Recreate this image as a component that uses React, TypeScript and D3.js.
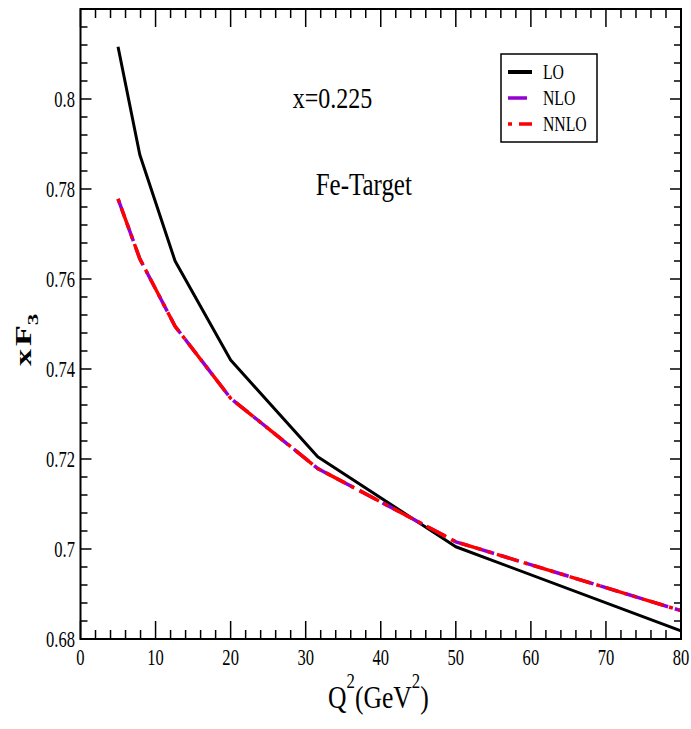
import React from "react";
import * as d3 from "d3";

const Q2 = [5, 7.9, 12.6, 20, 31.6, 50, 80];
const LO = [0.8116, 0.7876, 0.764, 0.742, 0.7205, 0.7005, 0.6818];
const NLO = [0.7778, 0.7645, 0.7495, 0.7335, 0.7179, 0.7016, 0.6863];
const NNLO = [0.7778, 0.7645, 0.7495, 0.7335, 0.7179, 0.7016, 0.6863];

const xTickValues = [0, 10, 20, 30, 40, 50, 60, 70, 80];
const xTickLabels = ["0", "10", "20", "30", "40", "50", "60", "70", "80"];
const yTickValues = [0.68, 0.7, 0.72, 0.74, 0.76, 0.78, 0.8];
const yTickLabels = ["0.68", "0.7", "0.72", "0.74", "0.76", "0.78", "0.8"];

const seriesNames = ["LO", "NLO", "NNLO"];
const seriesColors = ["#000000", "#9400D3", "#FF0000"];

const W = 691;
const H = 729;
const L = 80.5, R = 681, T = 9, B = 639;
const FONT = "'Liberation Serif', 'Times New Roman', serif";

export default function App() {
  const x = d3.scaleLinear().domain([0, 80]).range([L, R]);
  const y = d3.scaleLinear().domain([0.68, 0.82]).range([B, T]);

  const mk = (vals: number[]) =>
    d3.line<number>().x((_, i) => x(Q2[i])).y((v) => y(v))(vals) || "";

  const xMinor = d3.range(0, 41).map((i) => i * 2);
  const yMinor = d3.range(0, 36).map((i) => 0.68 + i * 0.004);

  const tickStroke = { stroke: "#000", strokeWidth: 1.5 };

  return (
    <div style={{ position: "absolute", left: 0, top: 0 }}>
      <svg width={W} height={H} style={{ display: "block", background: "#fff" }}>
        {/* ticks x */}
        {xMinor.map((v) => {
          const major = v % 10 === 0;
          const len = major ? 18 : 9;
          return (
            <g key={"xt" + v}>
              <line x1={x(v)} x2={x(v)} y1={B} y2={B - len} {...tickStroke} />
              <line x1={x(v)} x2={x(v)} y1={T} y2={T + len} {...tickStroke} />
            </g>
          );
        })}
        {yMinor.map((v, i) => {
          const major = i % 5 === 0;
          const len = major ? 11 : 7;
          return (
            <g key={"yt" + i}>
              <line x1={L} x2={L + len} y1={y(v)} y2={y(v)} {...tickStroke} />
              <line x1={R} x2={R - len} y1={y(v)} y2={y(v)} {...tickStroke} />
            </g>
          );
        })}
        {/* curves */}
        <path d={mk(LO)} fill="none" stroke={seriesColors[0]} strokeWidth={3} strokeLinejoin="round" />
        <path d={mk(NLO)} fill="none" stroke={seriesColors[1]} strokeWidth={3.5} strokeDasharray="19,7" />
        <path d={mk(NNLO)} fill="none" stroke={seriesColors[2]} strokeWidth={3.5} strokeDasharray="4,6,22,6" />
        {/* frame */}
        <rect x={L} y={T} width={R - L} height={B - T} fill="none" stroke="#000" strokeWidth={2} />
        {/* tick labels */}
        {xTickValues.map((v, i) => (
          <text key={"xl" + v} transform={`translate(${x(v)},665) scale(0.72,1)`} textAnchor="middle"
            fontFamily={FONT} fontSize={23}>{xTickLabels[i]}</text>
        ))}
        {yTickValues.map((v, i) => (
          <text key={"yl" + v} transform={`translate(75,${y(v) + 8}) scale(0.72,1)`} textAnchor="end"
            fontFamily={FONT} fontSize={23}>{yTickLabels[i]}</text>
        ))}
        {/* axis titles */}
        <text transform="translate(328,708) scale(0.8,1)" fontFamily={FONT} fontSize={32}>
          Q<tspan fontSize={21} dy={-20}>2</tspan><tspan dy={20}>(GeV</tspan><tspan fontSize={21} dy={-20}>2</tspan><tspan dy={20}>)</tspan>
        </text>
        <text transform="translate(31,366) rotate(-90) scale(1,0.66)" fontFamily={FONT} fontSize={34} fontWeight="bold">
          x<tspan dx={3}>F</tspan><tspan fontSize={23} dy={10}>3</tspan>
        </text>
        {/* annotations */}
        <text transform="translate(292.7,108) scale(0.8,1)" fontFamily={FONT} fontSize={30}>x=0.225</text>
        <text transform="translate(315.7,195) scale(0.78,1)" fontFamily={FONT} fontSize={32}>Fe-Target</text>
        {/* legend */}
        <rect x={501} y={54} width={96} height={88} fill="#fff" stroke="#000" strokeWidth={1.5} />
        {seriesNames.map((n, i) => {
          const ly = 72 + i * 26;
          const dash = i === 1 ? "19,7" : i === 2 ? "4,7,22,6" : undefined;
          return (
            <g key={n}>
              <line x1={508} x2={532} y1={ly} y2={ly} stroke={seriesColors[i]} strokeWidth={i === 0 ? 4 : 3.5} strokeDasharray={dash} />
              <text transform={`translate(543,${ly + 7}) scale(0.75,1)`} fontFamily={FONT} fontSize={21}>{n}</text>
            </g>
          );
        })}
      </svg>
    </div>
  );
}
